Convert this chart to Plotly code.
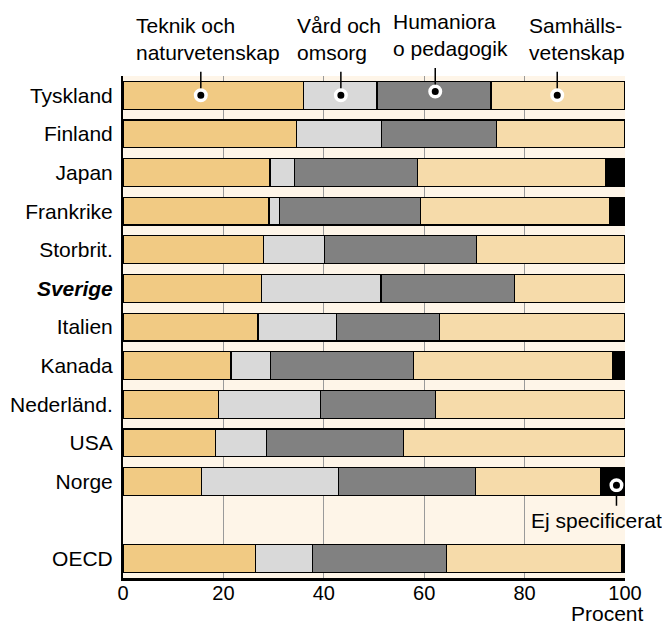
import plotly.graph_objects as go

# countries top to bottom, OECD average last (drawn after a blank row)
countries = ["Tyskland", "Finland", "Japan", "Frankrike", "Storbrit.", "Sverige",
             "Italien", "Kanada", "Nederländ.", "USA", "Norge", "OECD"]

teknik = [36.0, 34.5, 29.3, 29.1, 28.0, 27.6, 26.9, 21.5, 19.1, 18.5, 15.6, 26.4]
vard = [14.6, 17.0, 4.9, 2.0, 12.1, 23.8, 15.6, 7.9, 20.2, 10.1, 27.4, 11.4]
humaniora = [22.7, 22.9, 24.5, 28.2, 30.3, 26.6, 20.5, 28.4, 22.9, 27.2, 27.2, 26.6]
samhall = [26.7, 25.6, 37.5, 37.6, 29.6, 22.0, 37.0, 39.8, 37.8, 44.2, 25.0, 34.9]
ej_spec = [0, 0, 3.8, 3.1, 0, 0, 0, 2.4, 0, 0, 4.8, 0.7]

series_names = ["Teknik och<br>naturvetenskap", "Vård och<br>omsorg",
                "Humaniora<br>o pedagogik", "Samhälls-<br>vetenskap", "Ej specificerat"]
colors = ["#F1CA83", "#D9D9D9", "#818181", "#F6DBAA", "#000000"]

# where the callout dots sit (percent) and where the label text starts
callout_x = [15.5, 43.4, 62.2, 86.5]
label_left = [2.2, 34.3, 53.4, 80.5]

FONT = "Liberation Sans, Arial, sans-serif"
FS = 21

# row positions: countries from the top, one empty row, then OECD at the bottom
n = len(countries) - 1
ypos = [n + 1 - i for i in range(n)] + [0]
ticktext = ["<b><i>%s</i></b>" % c if c == "Sverige" else c for c in countries]

fig = go.Figure()
for name, vals, col in zip(series_names, [teknik, vard, humaniora, samhall, ej_spec], colors):
    fig.add_trace(go.Bar(
        y=ypos, x=vals, orientation="h", name=name,
        width=0.72,
        marker=dict(color=col, line=dict(color="black", width=1.2)),
        showlegend=False
    ))

# callout dots
top_y = ypos[0]
dot_x = callout_x + [100 - ej_spec[10] / 2 + 0.7]
dot_y = [top_y, top_y, top_y + 0.1, top_y, ypos[10] - 0.1]
fig.add_trace(go.Scatter(
    x=dot_x, y=dot_y, mode="markers", cliponaxis=False, showlegend=False,
    marker=dict(size=10.5, color="black", line=dict(color="white", width=3.5))
))

annotations = []
for i, (lx, cx) in enumerate(zip(label_left, callout_x)):
    annotations.append(dict(
        xref="x", yref="paper", x=lx, y=1, xanchor="left", yanchor="bottom",
        text=series_names[i], align="left", showarrow=False,
        yshift=10 + (4 if i == 2 else 0),
        font=dict(family=FONT, size=FS, color="black")
    ))
    annotations.append(dict(
        xref="x", yref="y", x=cx, y=dot_y[i], text="", showarrow=True,
        arrowhead=0, arrowwidth=1.5, arrowcolor="black", ax=0, ay=-25, standoff=7
    ))

# "Ej specificerat" callout below Norge
annotations.append(dict(
    xref="x", yref="y", x=dot_x[4], y=dot_y[4], text="", showarrow=True,
    arrowhead=0, arrowwidth=1.5, arrowcolor="black", ax=0, ay=22, standoff=7
))
annotations.append(dict(
    xref="x", yref="y", x=80.8, y=1, xanchor="left", yanchor="middle",
    text=series_names[4], showarrow=False,
    font=dict(family=FONT, size=FS, color="black")
))
annotations.append(dict(
    xref="x", yref="paper", x=100, y=0, xanchor="center", yanchor="top",
    xshift=-18, yshift=-22, text="Procent", showarrow=False,
    font=dict(family=FONT, size=FS, color="black")
))

fig.update_layout(
    template="none",
    barmode="stack",
    width=670, height=624,
    margin=dict(l=115, r=53, t=68, b=54),
    paper_bgcolor="white",
    plot_bgcolor="#FEF5E8",
    font=dict(family=FONT, size=FS, color="black"),
    annotations=annotations,
    xaxis=dict(
        range=[0, 100], tickvals=[0, 20, 40, 60, 80, 100],
        showgrid=True, gridcolor="#9A9A9A", gridwidth=1,
        showline=True, linecolor="black", linewidth=2.5,
        zeroline=False, ticks="", ticklabelstandoff=-5, automargin=False,
        tickfont=dict(family=FONT, size=20, color="black")
    ),
    yaxis=dict(
        range=[-0.5, n + 1.5], tickvals=ypos, ticktext=ticktext,
        showgrid=False, zeroline=False,
        showline=True, linecolor="black", linewidth=2,
        ticks="", ticklabelstandoff=4, automargin=False,
        tickfont=dict(family=FONT, size=FS, color="black")
    ),
)

fig.write_html("out.html")
